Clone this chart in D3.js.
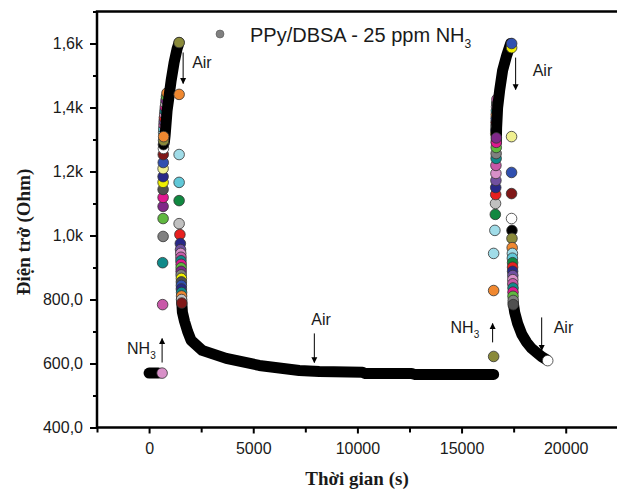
<!DOCTYPE html>
<html>
<head>
<meta charset="utf-8">
<script src="https://cdn.jsdelivr.net/npm/d3@7"></script>
<style>
  body { margin: 0; background: #fff; }
  svg { display: block; font-family: "Liberation Sans", Arial, sans-serif; }
</style>
</head>
<body>
<div id="chart"></div>
<script>
// ---- data (time in s, resistance in Ohm) ----
const xTicks = [0, 5000, 10000, 15000, 20000];
const xMinor = [-2500, 2500, 7500, 12500, 17500];
const yTicks = [400, 600, 800, 1000, 1200, 1400, 1600];
const yMinor = [500, 700, 900, 1100, 1300, 1500, 1700];
const yTickLabels = ['400,0', '600,0', '800,0', '1,0k', '1,2k', '1,4k', '1,6k'];
const legendLabel = 'PPy/DBSA - 25 ppm NH';

// dense (black) stretches of the record
const baseline1 = [[0, 570], [450, 570]];
const rise1 = [[730, 1290], [769, 1312], [865, 1391], [962, 1437], [1058, 1484], [1202, 1541], [1346, 1584], [1442, 1603]];
const decay1 = [[1560, 800], [1600, 760], [1700, 732], [1850, 700], [2019, 672], [2548, 641], [3702, 616],
  [5288, 594], [7212, 578], [8173, 575], [10240, 573], [10340, 569], [12600, 569], [12740, 566], [16540, 566]];
const rise2 = [[16670, 1290], [16683, 1337], [16731, 1400], [16827, 1453], [16971, 1516], [17163, 1562], [17356, 1600]];
const decay2 = [[17480, 790], [17550, 760], [17692, 725], [17900, 690], [18125, 666], [18350, 648],
  [18606, 634], [18850, 621], [19087, 612]];

// points partly hidden behind the dense rise [time, value, series]
const stack1 = [
  [700, 1322, 19], [705, 1334, 4], [715, 1346, 14], [725, 1357, 13], [735, 1368, 1], [750, 1379, 20],
  [765, 1390, 11], [780, 1401, 5], [800, 1412, 16], [815, 1423, 9], [835, 1434, 22], [860, 1445, 12]
];
const stack2 = [
  [16640, 1318, 6], [16645, 1330, 8], [16650, 1342, 15], [16655, 1354, 10], [16660, 1366, 3],
  [16665, 1378, 12], [16670, 1390, 11], [16680, 1402, 20], [16690, 1414, 21], [16700, 1426, 14]
];

// sparse points [time, value, series]
const cycle1 = [
  [625, 570, 20], [650, 784, 14], [650, 915, 11], [673, 997, 17], [673, 1053, 22], [673, 1091, 9],
  [673, 1119, 5], [673, 1144, 21], [673, 1166, 6], [673, 1184, 8], [673, 1209, 18], [680, 1228, 3],
  [680, 1253, 10], [690, 1272, 15], [690, 1284, 0], [695, 1297, 7], [700, 1309, 12],
  [1442, 1603, 7],
  [1442, 1441, 12], [1442, 1253, 19], [1442, 1166, 4], [1442, 1109, 2], [1442, 1037, 16],
  [1480, 1003, 1], [1500, 975, 8], [1510, 956, 13], [1520, 944, 20], [1530, 932, 14], [1530, 921, 11],
  [1540, 910, 5], [1540, 899, 22], [1540, 888, 9], [1540, 877, 17], [1550, 866, 6], [1550, 855, 21],
  [1550, 844, 3], [1550, 833, 8], [1560, 822, 11], [1560, 811, 12], [1560, 800, 16], [1570, 789, 10]
];
const cycle2 = [
  [16540, 622, 7], [16540, 828, 12], [16540, 944, 19], [16600, 1016, 19], [16620, 1066, 2],
  [16630, 1100, 16], [16640, 1128, 1], [16640, 1150, 8], [16650, 1172, 13], [16650, 1194, 20],
  [16650, 1219, 14], [16660, 1241, 11], [16660, 1256, 17], [16665, 1275, 22], [16665, 1291, 5],
  [16670, 1305, 9],
  [17404, 1587, 6], [17404, 1600, 3],
  [17400, 1309, 18], [17400, 1197, 3], [17400, 1131, 10], [17400, 1053, 15], [17420, 1016, 0],
  [17420, 991, 7], [17430, 962, 12], [17440, 944, 19], [17440, 929, 4], [17450, 915, 2],
  [17450, 901, 1], [17450, 888, 8], [17460, 875, 13], [17460, 862, 20], [17460, 849, 14],
  [17470, 836, 11], [17470, 823, 5], [17470, 810, 22], [17480, 797, 17], [17480, 784, 21],
  [19135, 609, 15]
];

// arrows: [time, from, to], label at [time, value]
const notes = [
  { text: 'Air', arrow: [1635, 1572, 1475], at: [2067, 1522] },
  { text: 'NH', sub: '3', arrow: [625, 603, 678], at: [-1058, 631] },
  { text: 'Air', arrow: [7933, 694, 603], at: [7789, 719] },
  { text: 'NH', sub: '3', arrow: [16491, 666, 725], at: [14472, 694] },
  { text: 'Air', arrow: [18846, 744, 641], at: [19423, 694] },
  { text: 'Air', arrow: [17596, 1556, 1456], at: [18413, 1497] }
];

// Origin-like series colours
const seriesColors = ['#000000', '#e82020', '#108840', '#3050b0', '#60c8d8', '#e01890', '#f0f000',
  '#8a8a3a', '#282888', '#802888', '#801818', '#108a8a', '#f08830', '#7050a0', '#c858a8', '#ffffff',
  '#c0c0c0', '#808080', '#f0f090', '#a0dce8', '#d890c8', '#505050', '#60b840'];

// ---- chart ----
const W = 617, H = 490;
const svg = d3.select('#chart').append('svg').attr('width', W).attr('height', H);

const x = d3.scaleLinear().domain([-2500, 22500]).range([97, 617.8]);
const y = d3.scaleLinear().domain([400, 1700]).range([427.5, 11.5]);

const line = d3.line().x(d => x(d[0])).y(d => y(d[1]));
const plot = svg.append('g');

const drawDots = (pts, cls) => {
  plot.selectAll('.' + cls)
    .data(pts).join('circle')
    .attr('class', cls)
    .attr('cx', d => x(d[0])).attr('cy', d => y(d[1]))
    .attr('r', 5.3)
    .attr('fill', d => seriesColors[d[2]])
    .attr('stroke', '#333').attr('stroke-width', 0.8);
};

drawDots(stack1.concat(stack2), 'under');

[baseline1, rise1, decay1, rise2, decay2].forEach(seg => {
  plot.append('path').datum(seg)
    .attr('d', line)
    .attr('fill', 'none').attr('stroke', '#000')
    .attr('stroke-width', 11)
    .attr('stroke-linecap', 'round').attr('stroke-linejoin', 'round');
});

drawDots(cycle1.concat(cycle2), 'pt');

// Axes
const fmtY = d => yTickLabels[yTicks.indexOf(d)];
const styleAxis = g => {
  g.select('.domain').remove();
  g.selectAll('line').attr('stroke', '#000').attr('stroke-width', 2);
  g.selectAll('text').attr('font-size', '16px').attr('fill', '#1a1a1a')
    .attr('font-family', '"Liberation Sans", Arial, sans-serif');
};

svg.append('g').attr('transform', `translate(0,${y(400)})`)
  .call(d3.axisBottom(x).tickValues(xTicks).tickFormat(d3.format('d')).tickSize(6).tickPadding(9))
  .call(styleAxis);
svg.append('g').attr('transform', `translate(0,${y(400)})`)
  .call(d3.axisBottom(x).tickValues(xMinor).tickFormat('').tickSize(5))
  .call(styleAxis);
svg.append('g').attr('transform', `translate(${x(-2500)},0)`)
  .call(d3.axisLeft(y).tickValues(yTicks).tickFormat(fmtY).tickSize(7).tickPadding(7))
  .call(styleAxis);
svg.append('g').attr('transform', `translate(${x(-2500)},0)`)
  .call(d3.axisLeft(y).tickValues(yMinor).tickFormat('').tickSize(4))
  .call(styleAxis);

// frame lines
svg.append('path')
  .attr('d', `M${x(-2500)},${y(400)}V${y(1700)}H${W}M${x(-2500)},${y(400)}H${W}`)
  .attr('fill', 'none').attr('stroke', '#000').attr('stroke-width', 2.5)
  .attr('stroke-linecap', 'square');

// Axis titles
svg.append('text')
  .attr('x', 357).attr('y', 485)
  .attr('text-anchor', 'middle')
  .attr('font-family', '"Liberation Serif", "Times New Roman", serif')
  .attr('font-weight', 'bold').attr('font-size', '19px').attr('fill', '#1a1a1a')
  .text('Thời gian (s)');
svg.append('text')
  .attr('transform', 'translate(30,232) rotate(-90)')
  .attr('text-anchor', 'middle')
  .attr('font-family', '"Liberation Serif", "Times New Roman", serif')
  .attr('font-weight', 'bold').attr('font-size', '19px').attr('fill', '#1a1a1a')
  .text('Điện trở (Ohm)');

// Legend
svg.append('circle').attr('cx', 220).attr('cy', 34).attr('r', 4)
  .attr('fill', seriesColors[17]).attr('stroke', '#555').attr('stroke-width', 0.6);
const lt = svg.append('text').attr('x', 250).attr('y', 42)
  .attr('font-size', '20px').attr('fill', '#1a1a1a').text(legendLabel);
lt.append('tspan').attr('dy', 6).attr('font-size', '12px').text('3');

// Annotations
svg.append('defs').append('marker')
  .attr('id', 'head').attr('viewBox', '0 0 10 10')
  .attr('refX', 9).attr('refY', 5)
  .attr('markerWidth', 6).attr('markerHeight', 9)
  .attr('markerUnits', 'userSpaceOnUse')
  .attr('orient', 'auto')
  .append('path').attr('d', 'M0,0L10,5L0,10Z').attr('fill', '#000');

notes.forEach(n => {
  svg.append('line')
    .attr('x1', x(n.arrow[0])).attr('y1', y(n.arrow[1]))
    .attr('x2', x(n.arrow[0])).attr('y2', y(n.arrow[2]))
    .attr('stroke', '#000').attr('stroke-width', 1)
    .attr('marker-end', 'url(#head)');
  const t = svg.append('text')
    .attr('x', x(n.at[0])).attr('y', y(n.at[1]))
    .attr('font-size', '16px').attr('fill', '#1a1a1a')
    .text(n.text);
  if (n.sub) t.append('tspan').attr('dy', 5).attr('font-size', '10px').text(n.sub);
});
</script>
</body>
</html>
